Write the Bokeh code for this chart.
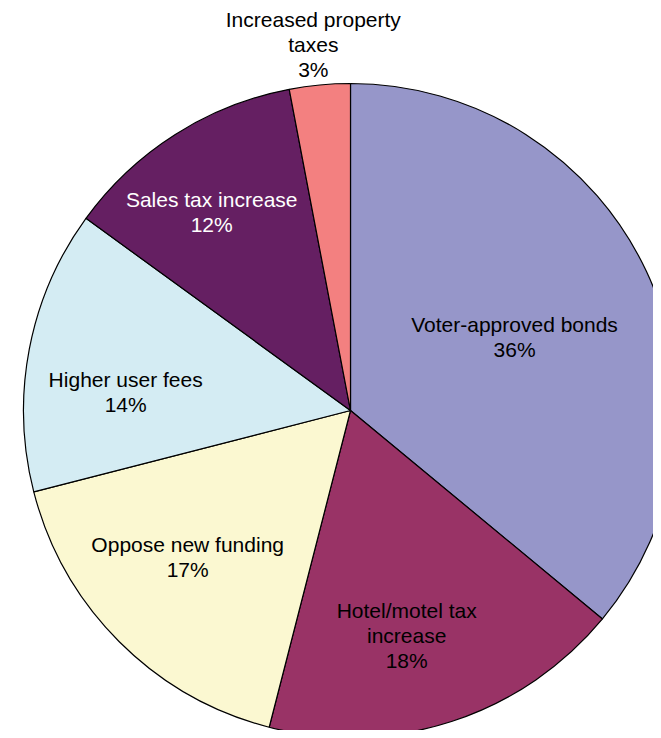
import numpy as np
from bokeh.plotting import figure
from bokeh.models import Range1d, ColumnDataSource
from bokeh.core.properties import value
from bokeh.embed import file_html
from bokeh.resources import INLINE

# Data
categories = ["Voter-approved bonds", "Hotel/motel tax increase", "Oppose new funding",
              "Higher user fees", "Sales tax increase", "Increased property taxes"]
label_texts = ["Voter-approved bonds", "Hotel/motel tax\nincrease", "Oppose new funding",
               "Higher user fees", "Sales tax increase", "Increased property\ntaxes"]
percents = [36, 18, 17, 14, 12, 3]

# Styles
colors = ["#9696C9", "#993366", "#FBF8D1", "#D4ECF3", "#651F62", "#F38080"]
text_colors = ["#000000", "#000000", "#000000", "#000000", "#FFFFFF", "#000000"]
label_radius = [0.55, 0.71, 0.67, 0.69, 0.74, 1.125]
label_shift_deg = [1.0, 4.0, 3.0, -6.0, -2.6, -0.4]  # clockwise shift of label from slice middle

R = 327.0
W, H = 653, 730
CX, CY = 350, 410  # pie centre in pixels from the figure's top-left

p = figure(width=W, height=H, output_backend="svg", toolbar_location=None,
           x_range=Range1d(-CX, W - CX), y_range=Range1d(CY - H, CY),
           x_axis_type=None, y_axis_type=None, min_border=0)
p.grid.visible = False
p.outline_line_color = None
p.background_fill_color = "white"
p.border_fill_color = "white"

frac = np.array(percents, dtype=float) / sum(percents)
cum_end = np.cumsum(frac)
cum_start = cum_end - frac
start_angle = np.pi / 2 - 2 * np.pi * cum_start
end_angle = np.pi / 2 - 2 * np.pi * cum_end
mid = (start_angle + end_angle) / 2 - np.radians(label_shift_deg)

src = ColumnDataSource(dict(start=start_angle, end=end_angle, color=colors))
p.wedge(x=0, y=0, radius=R, start_angle="start", end_angle="end", direction="clock",
        fill_color="color", line_color="black", line_width=1.2, source=src)

lx = np.array(label_radius) * R * np.cos(mid)
ly = np.array(label_radius) * R * np.sin(mid)
full = [f"{t}\n{v}%" for t, v in zip(label_texts, percents)]
lsrc = ColumnDataSource(dict(x=lx, y=ly, t=full, c=text_colors))
p.text(x="x", y="y", text="t", text_color="c", source=lsrc,
       text_align="center", text_baseline="middle",
       text_font=value("Liberation Sans"), text_font_size="21px",
       text_line_height=1.08)

open("out.html", "w").write(file_html(p, INLINE))
